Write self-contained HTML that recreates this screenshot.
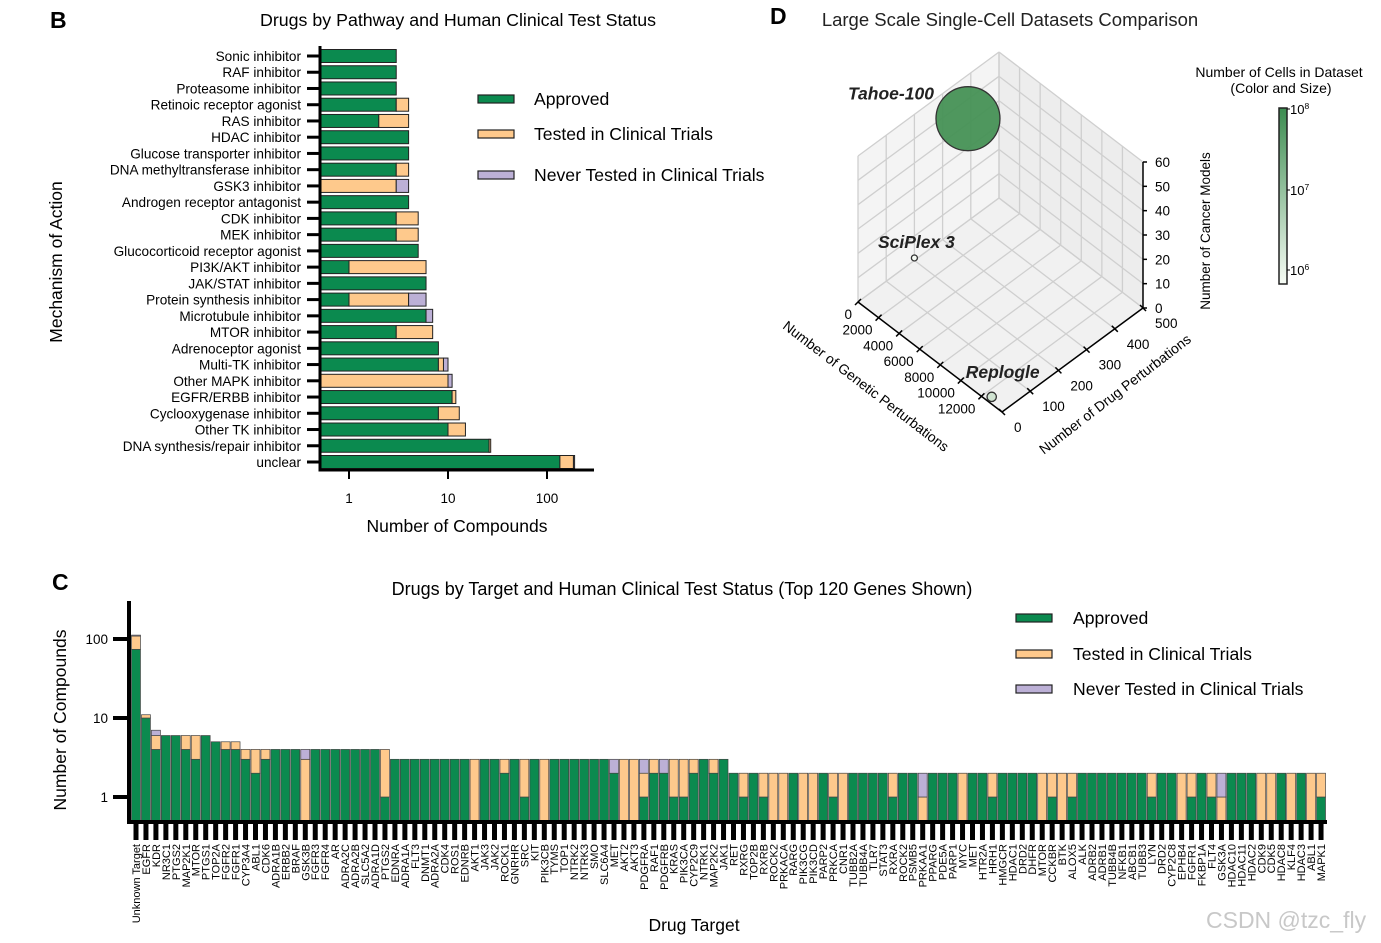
<!DOCTYPE html>
<html><head><meta charset="utf-8">
<style>
html,body{margin:0;padding:0;background:#fff;}
svg{display:block;font-family:"Liberation Sans",Arial,sans-serif;}
</style></head>
<body>
<svg id="fig" width="1381" height="943" viewBox="0 0 1381 943" xmlns="http://www.w3.org/2000/svg">
<g id="panelB"></g>
<g id="panelC"></g>
<g id="panelD"></g>
<text x="1206" y="928" font-size="23" fill="#c8c8c8">CSDN @tzc_fly</text>
</svg>
<script>
// ---------- Panel B data ----------
const mechLabels = ["Sonic inhibitor","RAF inhibitor","Proteasome inhibitor","Retinoic receptor agonist","RAS inhibitor","HDAC inhibitor","Glucose transporter inhibitor","DNA methyltransferase inhibitor","GSK3 inhibitor","Androgen receptor antagonist","CDK inhibitor","MEK inhibitor","Glucocorticoid receptor agonist","PI3K/AKT inhibitor","JAK/STAT inhibitor","Protein synthesis inhibitor","Microtubule inhibitor","MTOR inhibitor","Adrenoceptor agonist","Multi-TK inhibitor","Other MAPK inhibitor","EGFR/ERBB inhibitor","Cyclooxygenase inhibitor","Other TK inhibitor","DNA synthesis/repair inhibitor","unclear"];
const mechApproved = [3,3,3,3,2,4,4,3,0,4,3,3,5,1,6,1,6,3,8,8,0,11,8,10,26,135];
const mechTested   = [0,0,0,1,2,0,0,1,3,0,2,2,0,5,0,3,0,4,0,1,10,1,5,5,1,50];
const mechNever    = [0,0,0,0,0,0,0,0,1,0,0,0,0,0,0,2,1,0,0,1,1,0,0,0,0,5];
const bTicks = [1,10,100];

// ---------- Panel C data ----------
const targets = ["Unknown Target","EGFR","KDR","NR3C1","PTGS2","MAP2K1","MTOR","PTGS1","TOP2A","FGFR2","FGFR1","CYP3A4","ABL1","CDK6","ADRA1B","ERBB2","BRAF","GSK3B","FGFR3","FGFR4","AR","ADRA2C","ADRA2B","SLC5A2","ADRA1D","PTGS2","EDNRA","ADRA1A","FLT3","DNMT1","ADRA2A","CDK4","ROS1","EDNRB","AKT1","JAK3","JAK2","ROCK1","GNRHR","SRC","KIT","PIK3CB","TYMS","TOP1","NTRK2","NTRK3","SMO","SLC6A4","MET","AKT2","AKT3","PDGFRA","RAF1","PDGFRB","KRAS","PIK3CA","CYP2C9","NTRK1","MAP2K2","JAK1","RET","RXRG","TOP2B","RXRB","ROCK2","PRKACA","RARG","PIK3CG","PIK3CD","PARP2","PRKCA","CNR1","TUBB2A","TUBB4A","TLR7","STAT3","RXRA","ROCK2","PSMB5","PRKAA1","PPARG","PDE5A","PARP1","MYC","MET","HTR2A","HRH1","HMGCR","HDAC1","DRD2","DHFR","MTOR","CCKBR","BTK","ALOX5","ALK","ADRB2","ADRB1","TUBB4B","NFKB1","ABCB1","TUBB3","LYN","DRD2","CYP2C8","EPHB4","FGFR1","FKBP1A","FLT4","GSK3A","HDAC10","HDAC11","HDAC2","CDK9","CDK5","HDAC8","KLF4","HDAC3","ABL1","MAPK1"];
const tgtApproved = [74,10,4,6,6,4,3,6,5,4,4,3,2,3,4,4,4,0,4,4,4,4,4,4,4,1,3,3,3,3,3,3,3,3,0,3,3,2,3,1,3,0,3,3,3,3,3,3,2,0,0,1,2,2,1,1,2,3,2,3,2,1,2,1,0,0,2,0,0,2,1,0,2,2,2,2,1,2,2,0,2,2,2,0,2,2,1,2,2,2,2,0,1,0,1,2,2,2,2,2,2,2,1,2,2,0,1,2,1,0,2,2,2,0,0,2,0,2,0,1];
const tgtTested   = [35,1,2,0,0,2,3,0,0,1,1,1,2,1,0,0,0,3,0,0,0,0,0,0,0,3,0,0,0,0,0,0,0,0,3,0,0,1,0,2,0,3,0,0,0,0,0,0,0,3,3,1,1,0,2,2,1,0,1,0,0,1,0,1,2,2,0,2,2,0,1,2,0,0,0,0,1,0,0,1,0,0,0,2,0,0,1,0,0,0,0,2,1,2,1,0,0,0,0,0,0,0,1,0,0,2,1,0,1,1,0,0,0,2,2,0,2,0,2,1];
const tgtNever    = [3,0,1,0,0,0,0,0,0,0,0,0,0,0,0,0,0,1,0,0,0,0,0,0,0,0,0,0,0,0,0,0,0,0,0,0,0,0,0,0,0,0,0,0,0,0,0,0,1,0,0,1,0,1,0,0,0,0,0,0,0,0,0,0,0,0,0,0,0,0,0,0,0,0,0,0,0,0,0,1,0,0,0,0,0,0,0,0,0,0,0,0,0,0,0,0,0,0,0,0,0,0,0,0,0,0,0,0,0,1,0,0,0,0,0,0,0,0,0,0];
const cTicks = [1,10,100];

// ---------- Panel D data ----------
const dsNames = ["Tahoe-100","SciPlex 3","Replogle"];
const dsGenetic = [0,0,13000];
const dsDrug = [390,200,0];
const dsModels = [42,1,3];
const dsCells = [100000000,1000000,3000000];
const gTicks = [0,2000,4000,6000,8000,10000,12000];
const dTicks = [0,100,200,300,400,500];
const zTicks = [0,10,20,30,40,50,60];

const NS="http://www.w3.org/2000/svg";
const GREEN="#0b8a4f", TAN="#fec98c", LAV="#bcb0d6";
function mk(parent,tag,attrs,text){const e=document.createElementNS(NS,tag);for(const k in attrs)e.setAttribute(k,attrs[k]);if(text!==undefined)e.textContent=text;parent.appendChild(e);return e;}

// ================= Panel B =================
(function(){
const g=document.getElementById('panelB');
const xs=v=>349+99*Math.log10(v);
const y0=56, step=(462-56)/25;
const ys=i=>y0+i*step;
let t;
t=mk(g,'text',{x:50,y:28,'font-size':23,'font-weight':'bold'},'B');

t=mk(g,'text',{x:458,y:26,'font-size':17.8,'text-anchor':'middle'},'Drugs by Pathway and Human Clinical Test Status');

mechLabels.forEach((lab,i)=>{
  const y=ys(i);
  const l=mk(g,'text',{x:301,y:y+5,'font-size':13.6,'text-anchor':'end'},lab);
  
  const tk=mk(g,'line',{x1:307,x2:320,y1:y,y2:y,stroke:'#000','stroke-width':3});
  
  const segs=[[mechApproved[i],GREEN],[mechTested[i],TAN],[mechNever[i],LAV]];
  let cum=0;
  segs.forEach(([v,c])=>{
    if(v<=0)return;
    const a=cum===0?320:xs(cum); cum+=v; const b=xs(cum);
    const r=mk(g,'rect',{x:a,y:y-6.5,width:b-a,height:13,fill:c,stroke:'#222','stroke-width':1});
    
    
  });
});
let ax=mk(g,'line',{x1:320,x2:320,y1:46,y2:471,stroke:'#000','stroke-width':3});

ax=mk(g,'line',{x1:318.5,x2:594,y1:470,y2:470,stroke:'#000','stroke-width':3});

bTicks.forEach(v=>{
  const x=xs(v);
  const tk=mk(g,'line',{x1:x,x2:x,y1:470,y2:479,stroke:'#000','stroke-width':2});
  
  const l=mk(g,'text',{x:x,y:503,'font-size':13.5,'text-anchor':'middle'},String(v));
  
});
t=mk(g,'text',{x:457,y:532,'font-size':17.5,'text-anchor':'middle'},'Number of Compounds');

t=mk(g,'text',{x:0,y:0,'font-size':17.5,'text-anchor':'middle',transform:'translate(62,262) rotate(-90)'},'Mechanism of Action');

const leg=[['Approved',GREEN,99],['Tested in Clinical Trials',TAN,134],['Never Tested in Clinical Trials',LAV,175]];
leg.forEach(([n,c,y])=>{
  const r=mk(g,'rect',{x:478,y:y-4,width:36,height:8,fill:c,stroke:'#222','stroke-width':1.2});
  
  const l=mk(g,'text',{x:534,y:y+6,'font-size':17.6},n);
  
});
})();

// ================= Panel C =================
(function(){
const g=document.getElementById('panelC');
const ys=v=>797-79*Math.log10(v);
const base=822, x0=131, bw=1195/targets.length;
let t;
t=mk(g,'text',{x:52,y:590,'font-size':23,'font-weight':'bold'},'C');

t=mk(g,'text',{x:682,y:595,'font-size':18,'text-anchor':'middle'},'Drugs by Target and Human Clinical Test Status (Top 120 Genes Shown)');

targets.forEach((lab,i)=>{
  const x=x0+i*bw;
  const segs=[[tgtApproved[i],GREEN],[tgtTested[i],TAN],[tgtNever[i],LAV]];
  let cum=0;
  segs.forEach(([v,c])=>{
    if(v<=0)return;
    const b=cum===0?base:ys(cum); cum+=v; const a=ys(cum);
    const r=mk(g,'rect',{x:x+0.5,y:a,width:bw-1,height:b-a,fill:c,stroke:'#444','stroke-width':0.7});
    
    
  });
  const tk=mk(g,'rect',{x:x+2.5,y:824,width:5,height:16,fill:'#000'});
  
  const l=mk(g,'text',{x:0,y:0,'font-size':11,'text-anchor':'end',transform:`translate(${x+bw/2+4},844) rotate(-90)`},lab);
  
});
let ax=mk(g,'line',{x1:129,x2:129,y1:601,y2:824,stroke:'#000','stroke-width':4});

ax=mk(g,'line',{x1:127,x2:1327,y1:822,y2:822,stroke:'#000','stroke-width':4});

cTicks.forEach(v=>{
  const y=ys(v);
  const tk=mk(g,'line',{x1:113,x2:129,y1:y,y2:y,stroke:'#000','stroke-width':4});
  
  const l=mk(g,'text',{x:108,y:y+5,'font-size':13.5,'text-anchor':'end'},String(v));
  
});
t=mk(g,'text',{x:0,y:0,'font-size':17.5,'text-anchor':'middle',transform:'translate(66,720) rotate(-90)'},'Number of Compounds');

t=mk(g,'text',{x:694,y:931,'font-size':17.5,'text-anchor':'middle'},'Drug Target');

const leg=[['Approved',GREEN,618],['Tested in Clinical Trials',TAN,654],['Never Tested in Clinical Trials',LAV,689]];
leg.forEach(([n,c,y])=>{
  const r=mk(g,'rect',{x:1016,y:y-4,width:36,height:8,fill:c,stroke:'#222','stroke-width':1.2});
  
  const l=mk(g,'text',{x:1073,y:y+6,'font-size':17.6},n);
  
});
})();

// ================= Panel D =================
(function(){
const g=document.getElementById('panelD');
const GMAX=14000, DMAX=500, ZMAX=60;
const L=[858,302];
function P(gv,dv,zv){return [L[0]+gv/GMAX*144+dv/DMAX*141, L[1]+gv/GMAX*110-dv/DMAX*104-zv/ZMAX*146];}
const pts=a=>a.map(p=>p.join(',')).join(' ');
let t;
t=mk(g,'text',{x:770,y:24,'font-size':23,'font-weight':'bold'},'D');

t=mk(g,'text',{x:1010,y:26,'font-size':18.5,'text-anchor':'middle','fill':'#222'},'Large Scale Single-Cell Datasets Comparison');

let p=mk(g,'polygon',{points:pts([P(0,0,0),P(0,DMAX,0),P(0,DMAX,ZMAX),P(0,0,ZMAX)]),fill:'#f4f4f4',stroke:'none'});

p=mk(g,'polygon',{points:pts([P(0,DMAX,0),P(GMAX,DMAX,0),P(GMAX,DMAX,ZMAX),P(0,DMAX,ZMAX)]),fill:'#ededed',stroke:'none'});

p=mk(g,'polygon',{points:pts([P(0,0,0),P(GMAX,0,0),P(GMAX,DMAX,0),P(0,DMAX,0)]),fill:'#f1f1f1',stroke:'none'});

const grid=(a,b)=>{const l=mk(g,'line',{x1:a[0],y1:a[1],x2:b[0],y2:b[1],stroke:'#cfcfcf','stroke-width':1.3});};
gTicks.forEach(v=>{grid(P(v,0,0),P(v,DMAX,0));grid(P(v,DMAX,0),P(v,DMAX,ZMAX));});
dTicks.forEach(v=>{grid(P(0,v,0),P(GMAX,v,0));grid(P(0,v,0),P(0,v,ZMAX));});
zTicks.forEach(v=>{grid(P(0,0,v),P(0,DMAX,v));grid(P(0,DMAX,v),P(GMAX,DMAX,v));});
const axl=(a,b,n)=>{const l=mk(g,'line',{x1:a[0],y1:a[1],x2:b[0],y2:b[1],stroke:'#000','stroke-width':1.5});};
axl(P(0,0,0),P(GMAX,0,0),'genetic-axis');
axl(P(GMAX,0,0),P(GMAX,DMAX,0),'drug-axis');
axl(P(GMAX,DMAX,0),P(GMAX,DMAX,ZMAX),'z-axis');
gTicks.forEach(v=>{const q=P(v,0,0);
  const tk=mk(g,'line',{x1:q[0]-3,y1:q[1]+3,x2:q[0]+3,y2:q[1]-3,stroke:'#000','stroke-width':1.5});
  const l=mk(g,'text',{x:q[0]-6,y:q[1]+17,'font-size':13.5,'text-anchor':'end'},String(v));});
dTicks.forEach(v=>{const q=P(GMAX,v,0);
  const tk=mk(g,'line',{x1:q[0]-3,y1:q[1]-3,x2:q[0]+3,y2:q[1]+3,stroke:'#000','stroke-width':1.5});
  const l=mk(g,'text',{x:q[0]+12,y:q[1]+20,'font-size':13.5,'text-anchor':'start'},String(v));});
zTicks.forEach(v=>{const q=P(GMAX,DMAX,v);
  const tk=mk(g,'line',{x1:q[0],y1:q[1],x2:q[0]+4,y2:q[1],stroke:'#000','stroke-width':1.5});
  const l=mk(g,'text',{x:q[0]+12,y:q[1]+5,'font-size':13.5},String(v));});
t=mk(g,'text',{x:0,y:0,'font-size':14,'text-anchor':'middle',transform:'translate(863,390) rotate(37.5)'},'Number of Genetic Perturbations');

t=mk(g,'text',{x:0,y:0,'font-size':14,'text-anchor':'middle',transform:'translate(1118,398) rotate(-37.5)'},'Number of Drug Perturbations');

t=mk(g,'text',{x:0,y:0,'font-size':13.5,'text-anchor':'middle',transform:'translate(1210,231) rotate(-90)'},'Number of Cancer Models');

const col=c=>{const f=Math.max(0,(Math.log10(c)-6)/2);const lerp=(a,b)=>Math.round(a+(b-a)*f);return `rgb(${lerp(247,70)},${lerp(252,145)},${lerp(245,85)})`;};
const rad=c=>3+29*Math.pow(Math.max(0,(Math.log10(c)-6)/2),2);
const labOff=[[-77,-19],[2,-10],[11,-19]];
dsNames.forEach((n,i)=>{
  const q=P(dsGenetic[i],dsDrug[i],dsModels[i]);
  const c=mk(g,'circle',{cx:q[0],cy:q[1],r:rad(dsCells[i]),fill:col(dsCells[i]),stroke:'#333','stroke-width':1.3,'fill-opacity':0.95});
  
  const l=mk(g,'text',{x:q[0]+labOff[i][0],y:q[1]+labOff[i][1],'font-size':17.5,'font-weight':'bold','font-style':'italic','text-anchor':'middle',fill:'#222'},n);
  
});
const defs=mk(g,'defs',{});
const lg=mk(defs,'linearGradient',{id:'cbg',x1:0,y1:1,x2:0,y2:0});
mk(lg,'stop',{offset:0,'stop-color':'#f7fcf5'});
mk(lg,'stop',{offset:1,'stop-color':'#3c8c50'});
t=mk(g,'text',{x:1279,y:77,'font-size':14,'text-anchor':'middle'},'Number of Cells in Dataset');

t=mk(g,'text',{x:1281,y:93,'font-size':14,'text-anchor':'middle'},'(Color and Size)');

const cb=mk(g,'rect',{x:1279,y:108,width:8,height:176,fill:'url(#cbg)',stroke:'#222','stroke-width':1.5});

[['10','8',109],['10','7',190],['10','6',270]].forEach(([b,e,y])=>{
  const tk=mk(g,'line',{x1:1287,x2:1290,y1:y,y2:y,stroke:'#000'});
  const l=mk(g,'text',{x:1290,y:y+5,'font-size':13},b);
  mk(l,'tspan',{'font-size':8.5,dy:-5},e);
});
})();
</script>
</body></html>
